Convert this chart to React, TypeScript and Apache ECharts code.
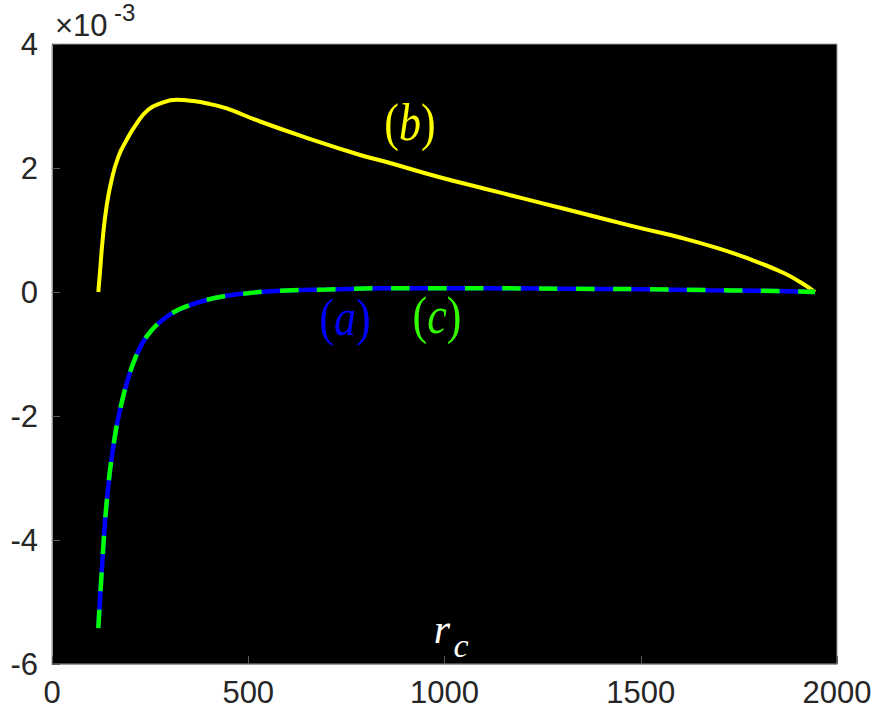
import React, { useEffect, useRef } from "react";
import * as echarts from "echarts";

// (b) yellow curve
const bR = [118, 122, 129, 139, 152, 169, 190, 216, 245, 275, 318, 360, 403, 445, 530, 657, 785, 850, 988, 1100, 1200, 1300, 1400, 1500, 1600, 1700, 1778, 1863, 1906, 1944];
const bY = [0.0, 0.3, 0.84, 1.38, 1.81, 2.18, 2.45, 2.72, 2.94, 3.04, 3.1, 3.08, 3.03, 2.96, 2.75, 2.47, 2.21, 2.1, 1.85, 1.67, 1.51, 1.35, 1.19, 1.03, 0.88, 0.7, 0.53, 0.31, 0.16, 0.0];

// (a) blue curve
const aR = [118, 127, 139, 156, 177, 207, 241, 292, 352, 428, 513, 581, 700, 850, 981, 1100, 1381, 1500, 1674, 1800, 1944];
const aY = [-5.42, -4.48, -3.41, -2.5, -1.8, -1.15, -0.72, -0.4, -0.21, -0.08, -0.01, 0.02, 0.04, 0.06, 0.06, 0.06, 0.05, 0.045, 0.03, 0.02, 0];

// (c) green dashed curve
const cR = [118, 127, 139, 156, 177, 207, 241, 292, 352, 428, 513, 581, 700, 850, 981, 1100, 1381, 1500, 1674, 1800, 1944];
const cY = [-5.42, -4.48, -3.41, -2.5, -1.8, -1.15, -0.72, -0.4, -0.21, -0.08, -0.01, 0.02, 0.04, 0.06, 0.06, 0.06, 0.05, 0.045, 0.03, 0.02, 0];

const xTicks = { min: 0, max: 2000, interval: 500 };
const yTicks = { min: -6, max: 4, interval: 2 };

const pair = (xs: number[], ys: number[]) => xs.map((x, i) => [x, ys[i]]);

const tickFont = "'Liberation Sans', Arial, Helvetica, sans-serif";
const mathFont = "'Liberation Serif', 'DejaVu Serif', serif";

export default function App() {
  const ref = useRef<HTMLDivElement>(null);
  useEffect(() => {
    const chart = echarts.init(ref.current!, null, { renderer: "svg" });
    const mathLabel = (text: string, color: string, x: number, y: number) => ({
      type: "text",
      x,
      y,
      scaleY: 1.2,
      style: {
        text: `{p|(}{i|${text}}{p|)}`,
        fill: color,
        align: "center",
        verticalAlign: "middle",
        rich: {
          p: { fontFamily: mathFont, fontSize: 44, fill: color },
          i: { fontFamily: mathFont, fontSize: 44, fontStyle: "italic", fill: color },
        },
      },
    });
    chart.setOption({
      animation: false,
      backgroundColor: "#ffffff",
      grid: {
        left: 52,
        top: 44,
        width: 785,
        height: 620,
        show: true,
        backgroundColor: "#000000",
        borderColor: "#9a9a9a",
        borderWidth: 1,
      },
      xAxis: {
        type: "value",
        min: xTicks.min,
        max: xTicks.max,
        interval: xTicks.interval,
        axisLine: { show: true, onZero: false, lineStyle: { color: "#9a9a9a", width: 1 } },
        axisTick: { show: true, inside: true, length: 8, lineStyle: { color: "#5a5a5a" } },
        splitLine: { show: false },
        axisLabel: {
          color: "#262626",
          fontFamily: tickFont,
          fontSize: 31,
          margin: 13,
          formatter: (v: number) => String(v),
        },
      },
      yAxis: {
        type: "value",
        min: yTicks.min,
        max: yTicks.max,
        interval: yTicks.interval,
        axisLine: { show: true, onZero: false, lineStyle: { color: "#9a9a9a", width: 1 } },
        axisTick: { show: true, inside: true, length: 8, lineStyle: { color: "#5a5a5a" } },
        splitLine: { show: false },
        axisLabel: {
          color: "#262626",
          fontFamily: tickFont,
          fontSize: 31,
          margin: 14,
          formatter: (v: number) => String(v),
        },
      },
      series: [
        {
          type: "line",
          data: pair(bR, bY),
          smooth: 0.5,
          showSymbol: false,
          lineStyle: { color: "#ffff00", width: 4 },
          z: 3,
        },
        {
          type: "line",
          data: pair(aR, aY),
          smooth: 0.4,
          showSymbol: false,
          lineStyle: { color: "#0000ff", width: 4.5 },
          z: 4,
        },
        {
          type: "line",
          data: pair(cR, cY),
          smooth: 0.4,
          showSymbol: false,
          lineStyle: { color: "#00ff00", width: 4.5, type: [18.5, 18.5] },
          z: 5,
        },
      ],
      graphic: [
        {
          type: "text",
          x: 55,
          y: 25,
          style: {
            text: "×10",
            fill: "#262626",
            fontFamily: tickFont,
            fontSize: 31,
            verticalAlign: "middle",
          },
        },
        {
          type: "text",
          x: 114,
          y: 12,
          style: {
            text: "-3",
            fill: "#262626",
            fontFamily: tickFont,
            fontSize: 24,
            verticalAlign: "middle",
          },
        },
        mathLabel("a", "#0000ff", 345, 318),
        mathLabel("c", "#33ff00", 437, 316),
        mathLabel("b", "#ffff00", 410, 123),
        {
          type: "text",
          x: 442,
          y: 629,
          style: {
            text: "r",
            fill: "#ffffff",
            fontFamily: mathFont,
            fontSize: 42,
            fontStyle: "italic",
            align: "center",
            verticalAlign: "middle",
          },
        },
        {
          type: "text",
          x: 461,
          y: 645,
          style: {
            text: "c",
            fill: "#ffffff",
            fontFamily: mathFont,
            fontSize: 34,
            fontStyle: "italic",
            align: "center",
            verticalAlign: "middle",
          },
        },
      ],
    });
    return () => chart.dispose();
  }, []);
  return (
    <div
      ref={ref}
      style={{ position: "fixed", left: 0, top: 0, width: 879, height: 717 }}
    />
  );
}
